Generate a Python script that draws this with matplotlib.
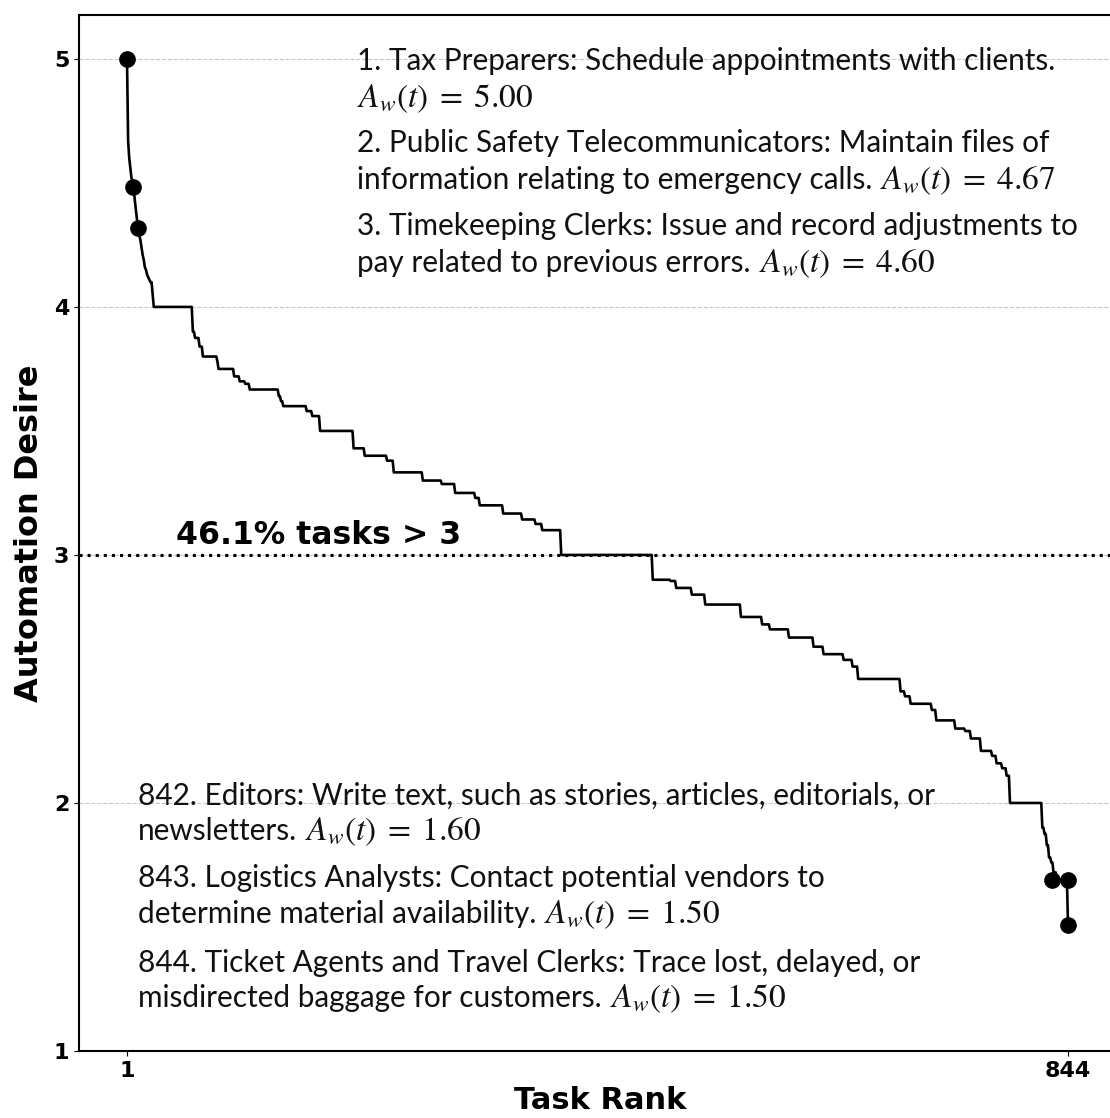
import numpy as np
import matplotlib
matplotlib.use("Agg")
import matplotlib.pyplot as plt

# ---------------- data ----------------
# individual values for the first ranks (1..24)
head_values = [5.00, 4.67, 4.60, 4.56, 4.52, 4.50, 4.48, 4.43, 4.39, 4.35,
               4.32, 4.29, 4.27, 4.24, 4.21, 4.19, 4.16, 4.15, 4.13, 4.12,
               4.11, 4.10, 4.10, 4.05]
# plateau levels and their lengths (ranks 25..844)
step_levels = [4.00, 3.90, 3.875, 3.84, 3.80, 3.78, 3.75, 3.72, 3.70, 3.69,
               3.667, 3.64, 3.62, 3.60, 3.58, 3.56, 3.50, 3.43, 3.40, 3.38,
               3.333, 3.30, 3.286, 3.25, 3.23, 3.20, 3.167, 3.143, 3.125, 3.10,
               3.00, 2.90, 2.895, 2.867, 2.84, 2.80, 2.75, 2.72, 2.70, 2.667,
               2.63, 2.60, 2.577, 2.55, 2.50, 2.45, 2.43, 2.40, 2.375, 2.333,
               2.30, 2.29, 2.26, 2.21, 2.19, 2.16, 2.14, 2.11, 2.00, 1.90,
               1.875, 1.83, 1.78, 1.76, 1.72, 1.69, 1.50]
step_counts = [35, 2, 4, 3, 13, 1, 14, 5, 5, 4,
               26, 2, 2, 21, 5, 7, 30, 10, 20, 6,
               26, 17, 12, 18, 4, 21, 17, 12, 6, 17,
               82, 16, 5, 14, 12, 32, 19, 7, 17, 22,
               9, 18, 8, 5, 38, 4, 5, 19, 4, 17,
               9, 5, 9, 10, 4, 5, 4, 3, 29, 2,
               2, 2, 2, 2, 3, 10, 1]
marker_rank = [1, 6.6, 10.9, 829.4, 844, 844]
marker_value = [5.00, 4.485, 4.32, 1.69, 1.69, 1.508]

x_ticks = [1, 844]
y_ticks = [1, 2, 3, 4, 5]
threshold = 3
threshold_label = "46.1% tasks > 3"

# (plain text part, math part)
top_lines = [
    ("1. Tax Preparers: Schedule appointments with clients.", ""),
    ("", r"$A_w(t)\;=\;5.00$"),
    ("2. Public Safety Telecommunicators: Maintain files of", ""),
    ("information relating to emergency calls.", r"$A_w(t)\;=\;4.67$"),
    ("3. Timekeeping Clerks: Issue and record adjustments to", ""),
    ("pay related to previous errors.", r"$A_w(t)\;=\;4.60$"),
]
bottom_lines = [
    ("842. Editors: Write text, such as stories, articles, editorials, or", ""),
    ("newsletters.", r"$A_w(t)\;=\;1.60$"),
    ("843. Logistics Analysts: Contact potential vendors to", ""),
    ("determine material availability.", r"$A_w(t)\;=\;1.50$"),
    ("844. Ticket Agents and Travel Clerks: Trace lost, delayed, or", ""),
    ("misdirected baggage for customers.", r"$A_w(t)\;=\;1.50$"),
]

desire = np.concatenate([head_values, np.repeat(step_levels, step_counts)])
rank = np.arange(1, len(desire) + 1)

# ---------------- figure ----------------
plt.rcParams["mathtext.fontset"] = "stix"
W, H = 1110, 1118
fig = plt.figure(figsize=(W / 100, H / 100), dpi=100)
ax = fig.add_axes([79 / W, (H - 1051) / H, 1042 / W, 1036 / H])

ax.yaxis.grid(True, linestyle="--", color="#c8c8c8", linewidth=0.8)
ax.set_axisbelow(True)

ax.plot(rank, desire, color="black", linewidth=1.9, zorder=3)
ax.plot(marker_rank, marker_value, "o", color="black", markersize=11, zorder=4)
ax.axhline(threshold, color="black", linestyle=":", linewidth=2.2, zorder=2)
ax.text(45, 3.045, threshold_label, fontsize=22.7, fontweight="bold",
        ha="left", va="baseline")

ax.set_xlim(-42, 1 + (1121 - 127) / 1.1163)
ax.set_ylim(1, 5.177)
ax.set_xticks(x_ticks)
ax.set_yticks(y_ticks)
for lab in ax.get_xticklabels() + ax.get_yticklabels():
    lab.set_fontweight("bold")
    lab.set_fontsize(16)
for sp in ax.spines.values():
    sp.set_linewidth(1.5)
ax.set_xlabel("Task Rank", fontsize=22, fontweight="bold", labelpad=4)
ax.set_ylabel("Automation Desire", fontsize=23, fontweight="bold", labelpad=6)

def px_to_y(py):
    return 5 - (py - 59) / 248.0

def px_to_x(px):
    return 1 + (px - 127) / 1.1163

top_base_px = [70, 107, 152, 189, 235, 272]
bot_base_px = [805, 840, 887, 923, 972, 1007]
TXT_COLOR = "#111111"
entries = []
for (plain, math), b in zip(top_lines, top_base_px):
    entries.append((357, b, plain, math))
for (plain, math), b in zip(bottom_lines, bot_base_px):
    entries.append((138, b, plain, math))

plain_texts = []
math_texts = []
for x0, b, plain, math in entries:
    t = ax.text(px_to_x(x0), px_to_y(b), plain, fontsize=20, family="Lato",
                color=TXT_COLOR, ha="left", va="baseline")
    m = None
    if math:
        m = ax.text(px_to_x(x0), px_to_y(b), math, fontsize=20,
                    color=TXT_COLOR, ha="left", va="baseline")
    plain_texts.append(t)
    math_texts.append(m)

fig.canvas.draw()
r = fig.canvas.get_renderer()
w = plain_texts[0].get_window_extent(r).width
fs = 20 * 700.0 / w
for t in plain_texts:
    t.set_fontsize(fs)
for m in math_texts:
    if m is not None:
        m.set_fontsize(fs * 1.12)
fig.canvas.draw()
r = fig.canvas.get_renderer()
inv = ax.transData.inverted()
for (x0, b, plain, math), t, m in zip(entries, plain_texts, math_texts):
    if m is None or not plain:
        continue
    ext = t.get_window_extent(r)
    xd, _ = inv.transform((ext.x1 + 8, 0))
    m.set_x(xd)

fig.savefig("out.png", dpi=100)
